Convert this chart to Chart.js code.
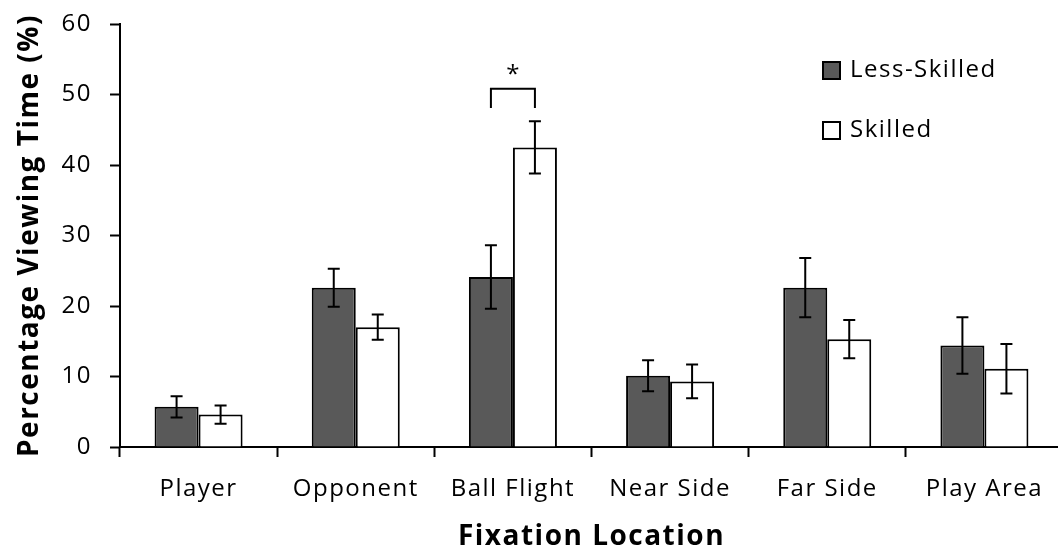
<!DOCTYPE html>
<html lang="en">
<head>
    <meta charset="UTF-8">
    <title>Fixation Location</title>
    <script src="https://cdn.jsdelivr.net/npm/chart.js@4"></script>
</head>
<body style="margin: 0; overflow: hidden; background: #fff">

<div style="position: relative; width: 1066px; height: 554px">
    <canvas id="myChart"></canvas>
</div>

<script type="text/javascript">

    var categories = ["Player", "Opponent", "Ball Flight", "Near Side", "Far Side", "Play Area"];
    var seriesNames = ["Less-Skilled", "Skilled"];
    var lessSkilled = [5.7, 22.6, 24.1, 10.1, 22.6, 14.4];
    var skilled = [4.6, 17.0, 42.5, 9.3, 15.3, 11.1];
    var lessSkilledErr = [1.5, 2.7, 4.5, 2.2, 4.2, 4.0];
    var skilledErr = [1.3, 1.8, 3.7, 2.4, 2.7, 3.5];
    var yTicks = [0, 10, 20, 30, 40, 50, 60];

    // significance marker over Ball Flight
    var sigCategory = 2;
    var sigBracketTop = 50.8;
    var sigBracketEnd = 48.1;
    var sigStarAt = 53.2;

    var tickFont = {family: "'Open Sans'", size: 24};
    var titleFont = {family: "'Open Sans'", size: 28, weight: "bold"};

    var errorBars = {
        id: "errorBars",
        afterDatasetsDraw: function (chart) {
            var ctx = chart.ctx;
            var y = chart.scales.y;
            var errs = [lessSkilledErr, skilledErr];
            ctx.save();
            ctx.strokeStyle = "#000";
            ctx.lineWidth = 2;
            chart.data.datasets.forEach(function (ds, d) {
                var meta = chart.getDatasetMeta(d);
                meta.data.forEach(function (bar, i) {
                    var top = y.getPixelForValue(ds.data[i] + errs[d][i]);
                    var bot = y.getPixelForValue(ds.data[i] - errs[d][i]);
                    ctx.beginPath();
                    ctx.moveTo(bar.x, top);
                    ctx.lineTo(bar.x, bot);
                    ctx.moveTo(bar.x - 6, top);
                    ctx.lineTo(bar.x + 6, top);
                    ctx.moveTo(bar.x - 6, bot);
                    ctx.lineTo(bar.x + 6, bot);
                    ctx.stroke();
                });
            });

            // bracket + star
            var a = chart.getDatasetMeta(0).data[sigCategory].x;
            var b = chart.getDatasetMeta(1).data[sigCategory].x;
            var t = y.getPixelForValue(sigBracketTop);
            var e = y.getPixelForValue(sigBracketEnd);
            ctx.beginPath();
            ctx.moveTo(a, e);
            ctx.lineTo(a, t);
            ctx.lineTo(b, t);
            ctx.lineTo(b, e);
            ctx.stroke();
            ctx.fillStyle = "#000";
            ctx.letterSpacing = "0px";
            ctx.font = "24px 'Open Sans'";
            ctx.textAlign = "center";
            ctx.textBaseline = "middle";
            ctx.fillText("*", (a + b) / 2, y.getPixelForValue(sigStarAt) + 3);
            ctx.restore();
        }
    };

    var boxLegend = {
        id: "boxLegend",
        afterDraw: function (chart) {
            var ctx = chart.ctx;
            ctx.save();
            ctx.font = "24px 'Open Sans'";
            ctx.textBaseline = "middle";
            ctx.textAlign = "left";
            ctx.lineWidth = 2;
            chart.data.datasets.forEach(function (ds, d) {
                var top = 62 + d * 60;
                ctx.fillStyle = ds.backgroundColor;
                ctx.fillRect(823, top, 17, 17);
                ctx.strokeStyle = "#000";
                ctx.strokeRect(823, top, 17, 17);
                ctx.fillStyle = "#000";
                ctx.fillText(ds.label, 850, top + 8);
            });
            ctx.restore();
        }
    };

    var spacing = {
        id: "spacing",
        beforeDraw: function (chart) {
            chart.ctx.letterSpacing = "1.5px";
        }
    };

    new Chart(document.getElementById("myChart"), {
        type: "bar",
        data: {
            labels: categories,
            datasets: [{
                label: seriesNames[0],
                data: lessSkilled,
                backgroundColor: "#595959",
                borderColor: "#000",
                borderWidth: 2
            }, {
                label: seriesNames[1],
                data: skilled,
                backgroundColor: "#ffffff",
                borderColor: "#000",
                borderWidth: 2
            }]
        },
        options: {
            responsive: true,
            maintainAspectRatio: false,
            animation: false,
            categoryPercentage: 0.56,
            barPercentage: 1.0,
            layout: {padding: {top: 24, right: 3, left: 0, bottom: 0}},
            plugins: {
                legend: {display: false},
                tooltip: {enabled: false}
            },
            scales: {
                x: {
                    grid: {
                        offset: true,
                        drawOnChartArea: false,
                        tickLength: 10,
                        tickWidth: 2,
                        tickColor: "#000"
                    },
                    border: {color: "#000", width: 2},
                    ticks: {color: "#000", font: tickFont, padding: 18, maxRotation: 0},
                    title: {
                        display: true,
                        text: "Fixation Location",
                        color: "#000",
                        font: titleFont,
                        padding: {top: 0, bottom: 0}
                    },
                    afterFit: function (scale) {
                        scale.height = 107;
                        scale.paddingLeft = 0;
                        scale.paddingRight = 0;
                    }
                },
                y: {
                    min: 0,
                    max: 60,
                    afterBuildTicks: function (scale) {
                        scale.ticks = yTicks.map(function (v) { return {value: v}; });
                    },
                    grid: {
                        drawOnChartArea: false,
                        tickLength: 10,
                        tickWidth: 2,
                        tickColor: "#000"
                    },
                    border: {color: "#000", width: 2},
                    ticks: {color: "#000", font: tickFont, padding: 18},
                    title: {
                        display: true,
                        text: "Percentage Viewing Time (%)",
                        color: "#000",
                        font: titleFont,
                        padding: {top: 13, bottom: 0}
                    },
                    afterFit: function (scale) {
                        scale.width = 120;
                        scale.paddingTop = 10;
                        scale.paddingBottom = 0;
                    }
                }
            }
        },
        plugins: [spacing, errorBars, boxLegend]
    });
</script>

</body>
</html>
